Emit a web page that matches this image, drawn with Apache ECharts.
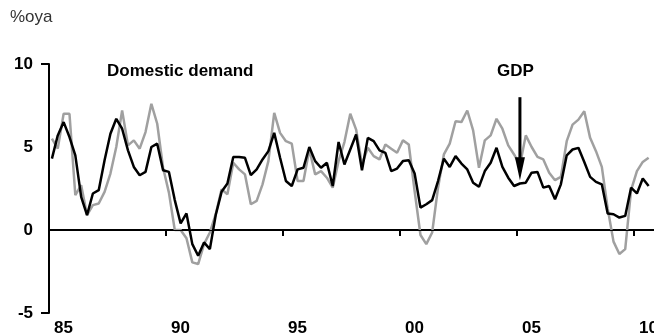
<!DOCTYPE html>
<html><head><meta charset="utf-8">
<script src="https://cdn.jsdelivr.net/npm/echarts@6/dist/echarts.min.js"></script>
<style>html,body{margin:0;padding:0;background:#fff}#c{width:654px;height:336px}</style>
</head><body><div id="c"></div>
<script>
// Quarterly categories 1985Q1 .. 2010Q4
const startYear = 1985;
const nQuarters = 104;
const categories = [];
for (let i = 0; i < nQuarters; i++) categories.push((startYear + Math.floor(i / 4)) + 'Q' + (i % 4 + 1));

const xTickLabels = ['85', '90', '95', '00', '05', '10'];
const yTickValues = [-5, 0, 5, 10];

// GDP, %oya (black)
const gdp = [
  4.3, 5.7, 6.5, 5.6, 4.5, 2.0, 0.9, 2.2, 2.4, 4.2,
  5.8, 6.7, 6.1, 4.8, 3.8, 3.3, 3.5, 5.0, 5.2, 3.6,
  3.5, 1.8, 0.4, 1.0, -0.85, -1.55, -0.75, -1.15, 0.9, 2.3,
  2.8, 4.4, 4.4, 4.35, 3.3, 3.65, 4.25, 4.75, 5.85, 4.35,
  2.95, 2.65, 3.65, 3.75, 5.0, 4.15, 3.75, 4.05, 2.65, 5.3,
  3.95, 4.85, 5.75, 3.6, 5.55, 5.35, 4.8, 4.65, 3.55, 3.7,
  4.15, 4.2, 3.4, 1.35, 1.55, 1.8, 2.95, 4.3, 3.8, 4.45,
  4.0, 3.65, 2.85, 2.6, 3.55, 4.05, 4.95, 3.8, 3.15, 2.65,
  2.8, 2.85, 3.45, 3.5, 2.55, 2.65, 1.85, 2.75, 4.5, 4.85,
  4.95, 4.1, 3.2, 2.9, 2.75, 1.0, 0.95, 0.75, 0.85, 2.55,
  2.2, 3.1, 2.65
];

// Domestic demand, %oya (grey)
const domesticDemand = [
  5.5, 4.9, 7.0, 7.0, 2.1, 2.7, 0.9, 1.5, 1.6, 2.3,
  3.4, 5.0, 7.2, 5.1, 5.4, 4.9, 5.9, 7.6, 6.4, 3.75,
  2.25, 0.0, 0.0, -0.5, -1.95, -2.05, -0.85, -0.15, 0.95, 2.45,
  2.15, 4.05, 3.65, 3.35, 1.55, 1.75, 2.75, 4.15, 7.05, 5.85,
  5.35, 5.2, 2.95, 2.95, 4.85, 3.35, 3.55, 3.15, 2.55, 4.15,
  5.3, 7.0, 6.05, 3.95, 4.95, 4.45, 4.25, 5.15, 4.9, 4.65,
  5.4, 5.15, 2.35, -0.3, -0.85, -0.15, 2.55, 4.55, 5.2, 6.55,
  6.5, 7.2, 6.0, 3.75, 5.4, 5.7, 6.7, 6.1, 5.1, 4.55,
  3.9, 5.7, 5.0, 4.4, 4.25, 3.45, 3.0, 3.2, 5.35, 6.35,
  6.65, 7.15, 5.55, 4.75, 3.8, 1.3, -0.7, -1.45, -1.15, 2.4,
  3.55, 4.1, 4.35
];

// Arrow annotation pointing at GDP in 2005Q1
const arrowIndex = 80;
const arrowTop = 8.0;
const arrowTip = 3.0;

const FONT = '"Liberation Sans", Arial, sans-serif';
const chart = echarts.init(document.getElementById('c'), null, {renderer: 'canvas'});

const option = {
  animation: false,
  backgroundColor: '#ffffff',
  grid: {left: 49, top: 64, width: 608.4, height: 249, containLabel: false, outerBoundsMode: 'none'},
  xAxis: {
    type: 'category', data: categories, boundaryGap: true,
    axisLine: {lineStyle: {color: '#000', width: 2}},
    axisTick: {show: true, interval: 19, length: 6, lineStyle: {color: '#000', width: 2}},
    axisLabel: {
      interval: 19, margin: 7, align: 'left', padding: [0, 0, 0, 2],
      formatter: function (v, i) { const k = i / 20; return Number.isInteger(k) && xTickLabels[k] ? xTickLabels[k] : ''; },
      color: '#000', fontFamily: FONT, fontWeight: 'bold', fontSize: 17
    },
    splitLine: {show: false}
  },
  yAxis: [{
    type: 'value', min: yTickValues[0], max: yTickValues[yTickValues.length - 1], interval: 5, position: 'left',
    axisLine: {show: true, lineStyle: {color: '#000', width: 2}},
    axisTick: {show: false},
    axisLabel: {margin: 16, color: '#000', fontFamily: FONT, fontWeight: 'bold', fontSize: 17},
    splitLine: {show: false}
  }, {
    type: 'value', min: -5, max: 10, interval: 15, position: 'left',
    axisLine: {show: false},
    axisTick: {show: true, length: 8, lineStyle: {color: '#000', width: 2}},
    axisLabel: {show: false},
    splitLine: {show: false}
  }],
  series: [{
    name: 'Domestic demand', type: 'line', data: domesticDemand,
    symbol: 'none', lineStyle: {color: '#a0a0a0', width: 2.5}, z: 2,
    markLine: {
      silent: true, symbol: 'none', label: {show: false},
      lineStyle: {color: '#000', width: 1.2, type: 'solid'},
      data: [[{coord: [0, 0]}, {coord: [nQuarters - 1, 0]}]]
    }
  }, {
    name: 'GDP', type: 'line', data: gdp,
    symbol: 'none', lineStyle: {color: '#000', width: 2.5}, z: 3
  }]
};
chart.setOption(option);

// Annotations
const arrowStart = chart.convertToPixel({gridIndex: 0}, [arrowIndex, arrowTop]);
const arrowEnd = chart.convertToPixel({gridIndex: 0}, [arrowIndex, arrowTip]);
const headH = 23, headW = 10;
chart.setOption({
  graphic: [
    {type: 'text', left: 10, top: 9, style: {text: '%oya', fill: '#333', font: '17px ' + FONT}},
    {type: 'text', left: 107, top: 63, style: {text: 'Domestic demand', fill: '#000', font: 'bold 17px ' + FONT}},
    {type: 'text', left: 497, top: 63, style: {text: 'GDP', fill: '#000', font: 'bold 17px ' + FONT}},
    {type: 'line', z: 10, shape: {x1: arrowStart[0], y1: arrowStart[1], x2: arrowEnd[0], y2: arrowEnd[1] - headH + 2}, style: {stroke: '#000', lineWidth: 3}},
    {type: 'polygon', z: 10, shape: {points: [[arrowEnd[0] - headW / 2, arrowEnd[1] - headH], [arrowEnd[0] + headW / 2, arrowEnd[1] - headH], [arrowEnd[0], arrowEnd[1]]]}, style: {fill: '#000'}}
  ]
});
</script></body></html>
